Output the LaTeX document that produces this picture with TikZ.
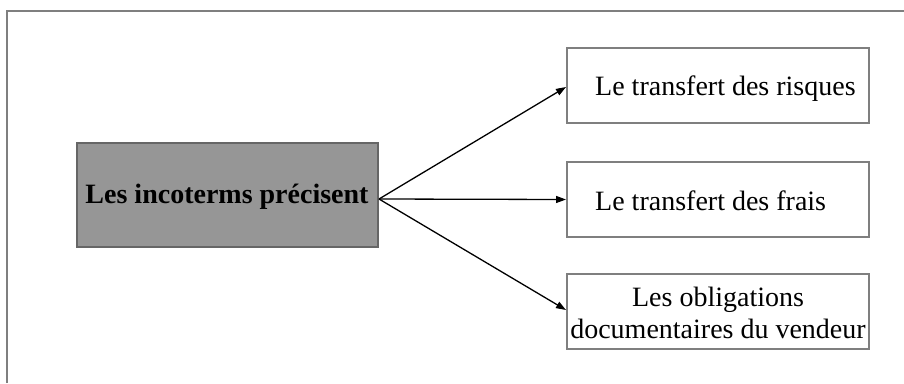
\documentclass[tikz,border=0pt]{standalone}
\usepackage{fontspec}
\setmainfont{Liberation Serif}
\usetikzlibrary{arrows.meta}
\definecolor{framegray}{HTML}{7F7F7F}
\definecolor{mainfill}{HTML}{969696}
\definecolor{mainborder}{HTML}{666666}
\tikzset{
  every node/.style={font=\fontsize{28}{32}\selectfont},
  outbox/.style={draw=framegray, line width=2pt, fill=white, minimum width=302pt, minimum height=75pt, inner sep=0pt},
  mainbox/.style={draw=mainborder, line width=2pt, fill=mainfill, minimum width=301pt, minimum height=104pt, inner sep=0pt},
  lbl/.style={inner sep=0pt, anchor=base west},
  conn/.style={draw=black, line width=1.3pt, -{Triangle[length=10pt,width=7pt]}},
}
\begin{document}
\begin{tikzpicture}[x=1pt,y=1pt]
\useasboundingbox (0,0) rectangle (904,-383);
\fill[white] (0,0) rectangle (904,-383);
% outer frame (open at right and bottom)
\draw[framegray, line width=2pt] (6.5,-383) -- (6.5,-11) -- (904,-11);
% main box
\node[mainbox] (main) at (227.5,-195) {};
\node[font=\bfseries\fontsize{28}{32}\selectfont, inner sep=0pt, anchor=base] (maintxt) at (227,-203) {Les incoterms précisent};
% right boxes
\node[outbox] (b1) at (718,-85.5) {};
\node[outbox] (b2) at (718,-199.5) {};
\node[outbox] (b3) at (718,-311.5) {};
\node[lbl] (t1) at (595,-95) {Le transfert des risques};
\node[lbl] (t2) at (595,-210) {Le transfert des frais};
\node[inner sep=0pt, align=center] (t3) at (718,-313) {Les obligations\\documentaires du vendeur};
% connectors
\coordinate (src) at ([yshift=-4pt]main.east);
\draw[conn] (src) -- ([yshift=-1.5pt]b1.west);
\draw[conn] (src) -- (b2.west);
\draw[conn] (src) -- ([yshift=1.5pt]b3.west);
\end{tikzpicture}
\end{document}
